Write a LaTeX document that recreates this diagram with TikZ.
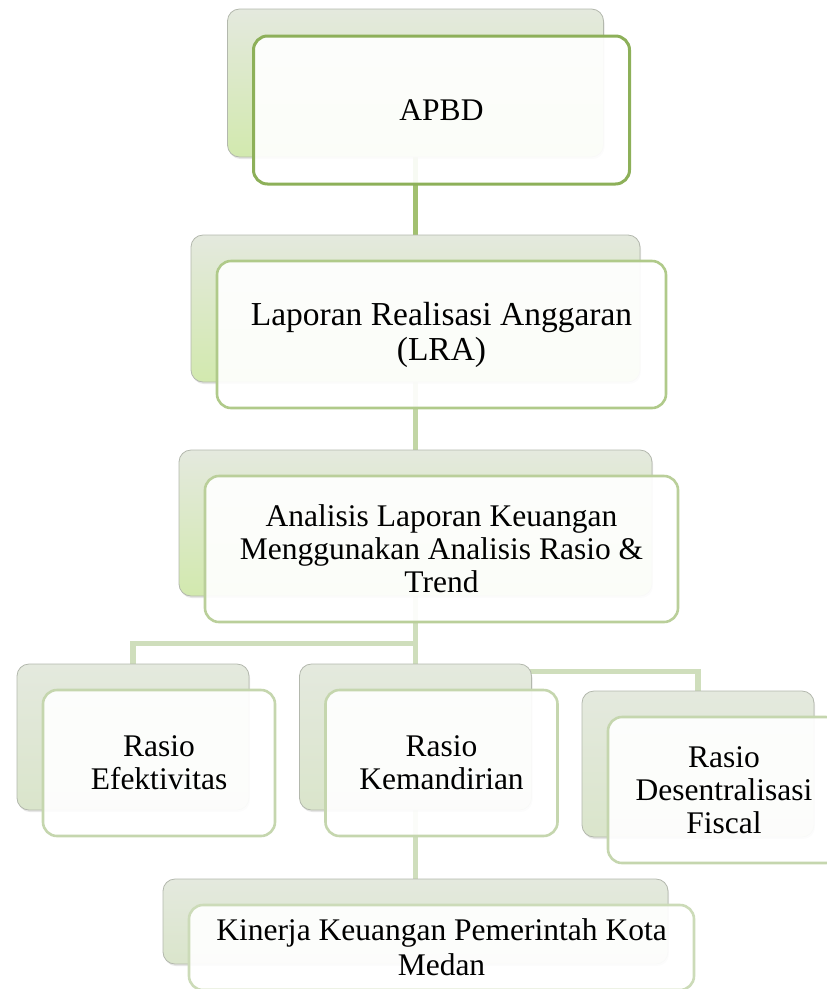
\documentclass[tikz,border=0pt]{standalone}
\usepackage{fontspec}
\setmainfont{Liberation Serif}
\usetikzlibrary{calc,backgrounds,shadows}
\definecolor{g1}{HTML}{8DB059}
\definecolor{g2}{HTML}{B0CA8A}
\definecolor{g3}{HTML}{BACF9A}
\definecolor{g4}{HTML}{C5D6AE}
\definecolor{g5}{HTML}{CCDBB8}
\definecolor{l1}{HTML}{A2C070}
\definecolor{l2}{HTML}{C2D6A5}
\definecolor{l3}{HTML}{CFDEBC}
\definecolor{edge}{HTML}{B3B8AD}
\definecolor{haze}{HTML}{E4E9DE}
\definecolor{lime}{HTML}{D2E9AE}
\definecolor{sage}{HTML}{DAE5CB}

\begin{document}
\begin{tikzpicture}[x=1pt,y=-1pt,font=\fontsize{31.5}{33}\selectfont,
  size/.style 2 args={minimum width=#1,minimum height=#2},
  card/.style={draw=#1,line width=2.6pt,rounded corners=14pt,fill=white,
    fill opacity=.92,text opacity=1,align=center,inner sep=0pt},
  under/.style={draw=edge,line width=.8pt,rounded corners=12pt,
    top color=haze,bottom color=#1,
    drop shadow={opacity=.2,shadow xshift=1pt,shadow yshift=-2pt}},
  link/.style={draw=#1,line width=5.5pt}]
  \useasboundingbox (0,0) rectangle (827,989);
  % top level
  \node[under=lime,size={376}{148}] (apbd-bg) at (415.5,83) {};
  \node[card=g1,size={376}{148},line width=3pt] (apbd) at ([shift={(26,27)}]apbd-bg.center) {APBD};
  \node[under=lime,size={449}{147}] (lra-bg) at (415.5,308.5) {};
  \node[card=g2,size={449}{147},font=\fontsize{33.5}{35}\selectfont] (lra)
    at ([shift={(26,26)}]lra-bg.center) {Laporan Realisasi Anggaran\\(LRA)};
  \node[under=lime,size={473}{146}] (analisis-bg) at (415.5,523) {};
  \node[card=g3,size={473}{146}] (analisis) at ([shift={(26,26)}]analisis-bg.center)
    {Analisis Laporan Keuangan\\Menggunakan Analisis Rasio \&\\Trend};
  % the three ratios
  \node[under=sage,size={232}{146}] (efektivitas-bg) at (133,737) {};
  \node[card=g4,size={232}{146}] (efektivitas) at ([shift={(26,26)}]efektivitas-bg.center)
    {Rasio\\Efektivitas};
  \node[under=sage,size={232}{146}] (kemandirian-bg) at (415.5,737) {};
  \node[card=g4,size={232}{146}] (kemandirian) at ([shift={(26,26)}]kemandirian-bg.center)
    {Rasio\\Kemandirian};
  \node[under=sage,size={232}{146}] (desentralisasi-bg) at (698,764) {};
  \node[card=g4,size={232}{146}] (desentralisasi) at ([shift={(26,26)}]desentralisasi-bg.center)
    {Rasio\\Desentralisasi\\Fiscal};
  % result
  \node[under=sage,size={505}{85}] (kinerja-bg) at (415.5,921.5) {};
  \node[card=g5,size={505}{85},font=\fontsize{31.5}{35}\selectfont] (kinerja)
    at ([shift={(26,26)}]kinerja-bg.center) {Kinerja Keuangan Pemerintah Kota\\Medan};
  \coordinate (split) at ($(analisis.south)!.5!(kemandirian-bg.north)$);
  \coordinate (branch) at ([yshift=-8pt]kemandirian-bg.north);
  \begin{pgfonlayer}{background}
    \draw[link=l1] (apbd-bg) -- (lra-bg);
    \draw[link=l2] (lra-bg) -- (analisis-bg);
    \draw[link=l3] (analisis-bg) -- (analisis-bg |- split) -| (efektivitas-bg);
    \draw[link=l3] (analisis-bg) -- (kemandirian-bg);
    \draw[link=l3] (analisis-bg) -- (branch) -| (desentralisasi-bg);
    \draw[link=l3] (kemandirian-bg) -- (kinerja-bg);
  \end{pgfonlayer}
\end{tikzpicture}
\end{document}
